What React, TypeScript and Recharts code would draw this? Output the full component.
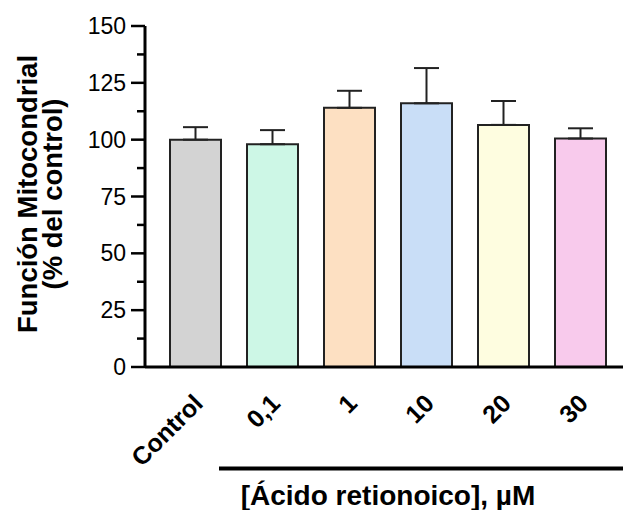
import React from 'react';
import { BarChart, Bar, XAxis, YAxis, Cell, ErrorBar } from 'recharts';

// [Ácido retionoico] groups, mean and upper SEM (% del control)
const categories = ['Control', '0,1', '1', '10', '20', '30'];
const means = [100, 98, 114, 116, 106.5, 100.5];
const sem = [5.5, 6.2, 7.5, 15.5, 10.5, 4.5];
const colors = ['#d3d3d3', '#cdf7e6', '#fde0c2', '#c9def7', '#fefde0', '#f8caec'];
const yTicks = [0, 12.5, 25, 37.5, 50, 62.5, 75, 87.5, 100, 112.5, 125, 137.5, 150];

const data = categories.map((name, i) => ({ name, value: means[i], err: [0, sem[i]] }));

const FONT = '"Liberation Sans", Arial, Helvetica, sans-serif';

const YTick = ({ x, y, payload }: any) => {
    const major = payload.value % 25 === 0;
    return (
        <g>
            <line x1={x - (major ? 14 : 8)} x2={x} y1={y} y2={y} stroke="#000" strokeWidth={2.5} />
            {major && (
                <text x={x - 19} y={y} dy="0.35em" textAnchor="end" fontSize={23} fontFamily={FONT} fill="#000">
                    {payload.value}
                </text>
            )}
        </g>
    );
};

const XTick = ({ x, y, payload }: any) => {
    const tx = x + 9;
    const ty = y + 38;
    return (
        <text x={tx} y={ty} transform={`rotate(-45, ${tx}, ${ty})`} textAnchor="end"
            fontSize={25} fontWeight="bold" fontFamily={FONT} fill="#000">
            {payload.value}
        </text>
    );
};

const YTitle = () => (
    <g fontFamily={FONT} fontWeight="bold" fontSize={27.5} fill="#000">
        <text x={37} y={194} transform="rotate(-90, 37, 194)" textAnchor="middle">Función Mitocondrial</text>
        <text x={62} y={194} transform="rotate(-90, 62, 194)" textAnchor="middle">(% del control)</text>
    </g>
);

const XTitle = () => (
    <g>
        <line x1={219} x2={623} y1={468.5} y2={468.5} stroke="#000" strokeWidth={4} />
        <text x={388} y={505} textAnchor="middle" fontFamily={FONT} fontWeight="bold" fontSize={28} fill="#000">
            [Ácido retionoico], µM
        </text>
    </g>
);

export default function App() {
    return (
        <div style={{ position: 'absolute', left: 0, top: 0, width: 625, height: 510, background: '#fff' }}>
            <BarChart width={625} height={510} data={data} margin={{ top: 26, right: 2, bottom: 113, left: 0 }}>
                <XAxis
                    dataKey="name"
                    height={30}
                    axisLine={{ stroke: '#000', strokeWidth: 3 }}
                    tickLine={false}
                    tickSize={0}
                    tickMargin={0}
                    tick={<XTick />}
                    interval={0}
                    padding={{ left: 12, right: 4 }}
                    label={{ content: () => <XTitle /> }}
                />
                <YAxis
                    width={145}
                    domain={[0, 150]}
                    ticks={yTicks}
                    interval={0}
                    axisLine={{ stroke: '#000', strokeWidth: 3 }}
                    tickLine={false}
                    tickSize={0}
                    tickMargin={0}
                    tick={<YTick />}
                    label={{ content: () => <YTitle /> }}
                />
                <Bar dataKey="value" barSize={51} stroke="#222" strokeWidth={2} isAnimationActive={false}>
                    {data.map((d, i) => (
                        <Cell key={d.name} fill={colors[i]} />
                    ))}
                    <ErrorBar dataKey="err" width={12.5} stroke="#222" strokeWidth={2} direction="y" isAnimationActive={false} />
                </Bar>
            </BarChart>
        </div>
    );
}
